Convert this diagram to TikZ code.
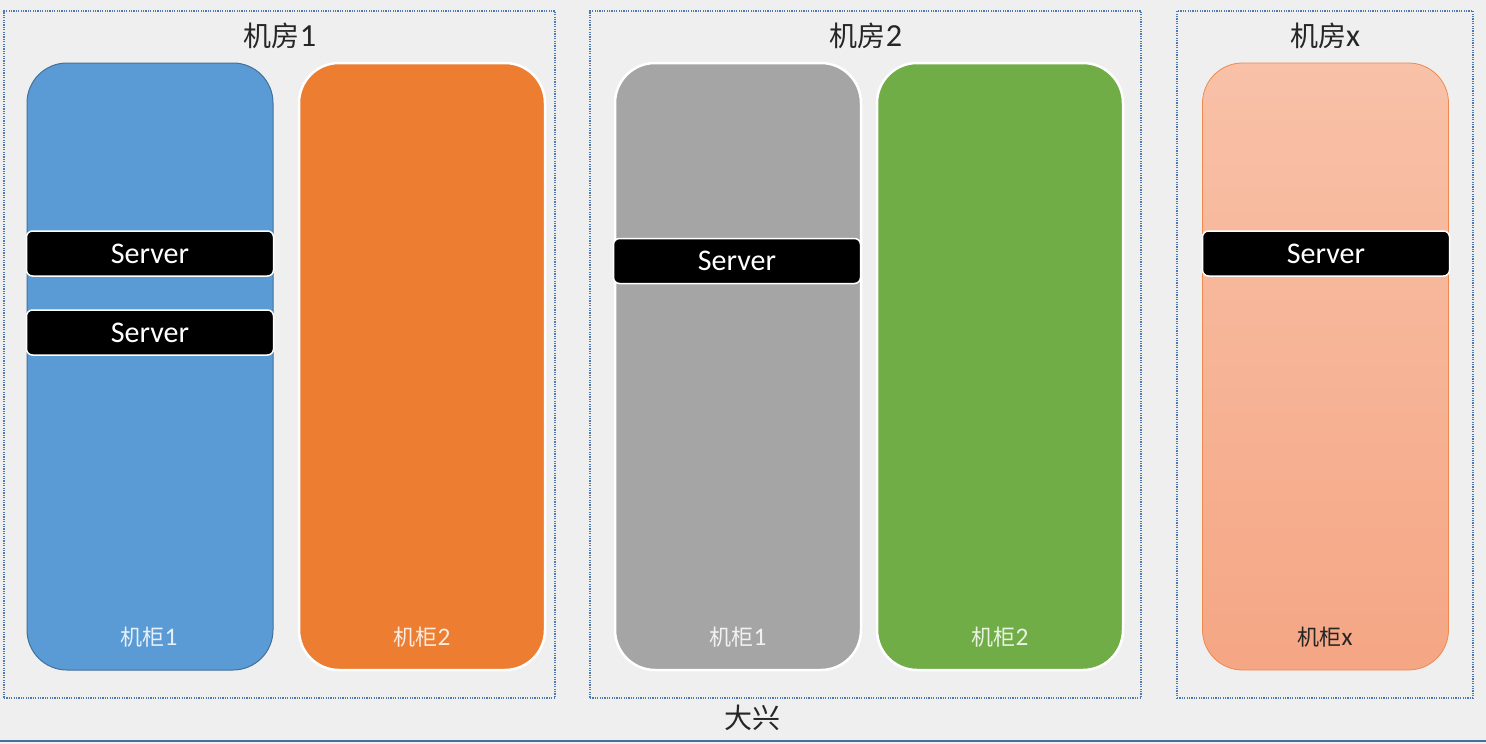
\documentclass[tikz,border=0pt]{standalone}
\usepackage{fontspec}
\setmainfont{Carlito}
\newfontfamily\cjk{Noto Sans CJK SC}
\definecolor{bgc}{HTML}{EFEFEF}
\definecolor{dotc}{HTML}{4F7AB0}
\definecolor{blue1}{HTML}{5B9BD5}
\definecolor{blue1d}{HTML}{41719C}
\definecolor{orange1}{HTML}{ED7D31}
\definecolor{gray1}{HTML}{A5A5A5}
\definecolor{green1}{HTML}{70AD47}
\definecolor{peachtop}{HTML}{F8C1A8}
\definecolor{peachbot}{HTML}{F5A684}
\definecolor{peachd}{HTML}{EE8A50}
\definecolor{linec}{HTML}{4A6F9E}
\tikzset{
  room/.style={draw=dotc, dash pattern=on 1.2pt off 1.2pt, line width=1.2pt, minimum height=687pt, inner sep=0pt},
  cab/.style={rounded corners=40pt, minimum width=246pt, minimum height=607pt, inner sep=0pt},
  cabw/.style={cab, draw=white, line width=2.5pt},
  srv/.style={fill=black, draw=white, line width=1.5pt, rounded corners=6pt,
    minimum width=247pt, minimum height=45pt, inner sep=0pt, text=white,
    font=\fontsize{30}{32}\selectfont},
  ttl/.style={font=\fontsize{28}{30}\selectfont, text=black!85, inner sep=0pt},
  lbl/.style={font=\fontsize{22}{24}\selectfont, text=white, text opacity=0.85, inner sep=0pt}
}
\newcommand{\dg}[1]{{\fontsize{1.15em}{1em}\selectfont #1}}
\begin{document}
\begin{tikzpicture}[x=1pt,y=-1pt]
\useasboundingbox (0,0) rectangle (1486,744);
\fill[bgc] (0,0) rectangle (1486,744);
% rooms
\node[room, minimum width=551pt] (r1) at (279.5,354.5) {};
\node[room, minimum width=551pt] (r2) at (865.5,354.5) {};
\node[room, minimum width=296pt] (rx) at (1325,354.5) {};
\node[ttl] (t1) at (280,36) {{\cjk 机房}\dg{1}};
\node[ttl] (t2) at (866,36) {{\cjk 机房}\dg{2}};
\node[ttl] (tx) at (1325,36) {{\cjk 机房}\dg{x}};
% cabinets
\node[cab, fill=blue1, draw=blue1d, line width=1pt] (c11) at (150,366.5) {};
\node[cabw, fill=orange1] (c12) at (422,366.5) {};
\node[cabw, fill=gray1] (c21) at (738,366.5) {};
\node[cabw, fill=green1] (c22) at (1000,366.5) {};
\node[cab, top color=peachtop, bottom color=peachbot, draw=peachd, line width=0.8pt] (cx) at (1325.5,366.5) {};
% cabinet labels
\node[lbl] (l11) at (149,637) {{\cjk 机柜}\dg{1}};
\node[lbl] (l12) at (422,637) {{\cjk 机柜}\dg{2}};
\node[lbl] (l21) at (738,637) {{\cjk 机柜}\dg{1}};
\node[lbl] (l22) at (1000,637) {{\cjk 机柜}\dg{2}};
\node[lbl, text=black!85, text opacity=1] (lx) at (1325,637) {{\cjk 机柜}\dg{x}};
% servers
\node[srv] (s1) at (150,253.5) {\raisebox{-1pt}{Server}};
\node[srv] (s2) at (150,332.5) {\raisebox{-1pt}{Server}};
\node[srv] (s3) at (737,261) {\raisebox{-1pt}{Server}};
\node[srv] (s4) at (1326,253.5) {\raisebox{-1pt}{Server}};
% bottom
\node[ttl] (dx) at (752,718) {\cjk 大兴};
\coordinate (bl) at (0,741);
\coordinate (br) at (1486,741);
\draw[linec, line width=2pt] (bl) -- (br);
\end{tikzpicture}
\end{document}
